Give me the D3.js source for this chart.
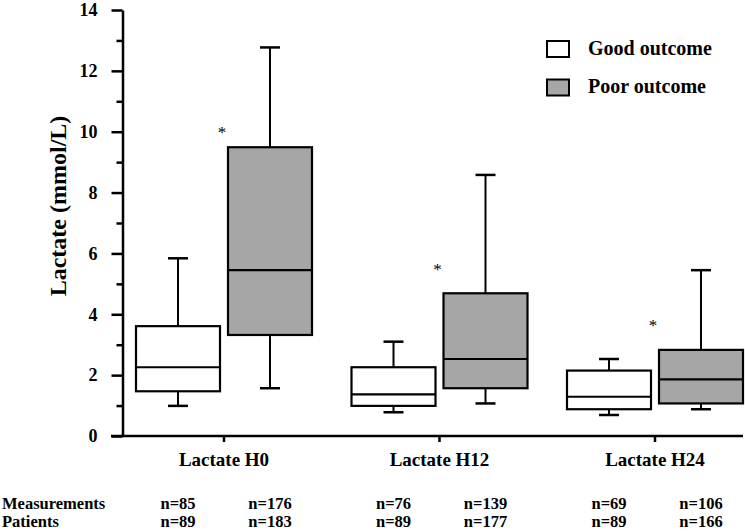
<!DOCTYPE html>
<html>
<head>
<meta charset="utf-8">
<script src="https://cdn.jsdelivr.net/npm/d3@7"></script>
<style>
  html, body { margin: 0; padding: 0; background: #fff; }
  svg { display: block; }
  svg text { font-family: "Liberation Serif", "Times New Roman", Times, "DejaVu Serif", serif !important; }
</style>
</head>
<body>
<svg id="chart" width="745" height="531"></svg>
<script>
// ---- data ----
const categories = ["Lactate H0", "Lactate H12", "Lactate H24"];
const groups = ["Good outcome", "Poor outcome"];
const goodMin = [0.99, 0.78, 0.69];
const goodQ1  = [1.47, 0.99, 0.88];
const goodMed = [2.26, 1.37, 1.29];
const goodQ3  = [3.61, 2.26, 2.15];
const goodMax = [5.84, 3.10, 2.53];
const poorMin = [1.57, 1.07, 0.88];
const poorQ1  = [3.32, 1.57, 1.07];
const poorMed = [5.45, 2.53, 1.86];
const poorQ3  = [9.49, 4.69, 2.83];
const poorMax = [12.77, 8.58, 5.45];
const measurementsGood = [85, 76, 69];
const measurementsPoor = [176, 139, 106];
const patientsGood = [89, 89, 89];
const patientsPoor = [183, 177, 166];
const asteriskValues = [10.09, 5.58, 3.75];
const yMajorTicks = [0, 2, 4, 6, 8, 10, 12, 14];
const yMinorTicks = [1, 3, 5, 7, 9, 11, 13];

const fills = {"Good outcome": "#ffffff", "Poor outcome": "#a6a6a6"};

const svg = d3.select("#chart");
const y = d3.scaleLinear().domain([0, 14]).range([436, 10]);
const x = d3.scaleBand().domain(categories).range([116.25, 762.75]).padding(0);
const sub = d3.scaleBand().domain(groups).range([-88, 88]).paddingInner(8 / 92);

const boxes = [];
categories.forEach((c, i) => {
  boxes.push({cat: c, group: groups[0], min: goodMin[i], q1: goodQ1[i], med: goodMed[i], q3: goodQ3[i], max: goodMax[i], m: measurementsGood[i], p: patientsGood[i]});
  boxes.push({cat: c, group: groups[1], min: poorMin[i], q1: poorQ1[i], med: poorMed[i], q3: poorQ3[i], max: poorMax[i], m: measurementsPoor[i], p: patientsPoor[i]});
});
const cx = c => x(c) + x.bandwidth() / 2;
const boxLeft = d => cx(d.cat) + sub(d.group);
const boxMid = d => boxLeft(d) + sub.bandwidth() / 2;

// ---- y axis ----
const yAxis = svg.append("g").attr("transform", "translate(122.5,0)")
  .call(d3.axisLeft(y).tickValues(yMajorTicks).tickSize(11).tickSizeOuter(0).tickPadding(14));
yAxis.attr("font-family", null);
yAxis.select(".domain").attr("stroke", "#000").attr("stroke-width", 2.5);
yAxis.selectAll(".tick line").attr("stroke", "#000").attr("stroke-width", 2.5);
yAxis.selectAll(".tick text").attr("font-weight", "bold")
  .attr("font-size", 18).attr("fill", "#000");
const yMinor = svg.append("g").attr("transform", "translate(122.5,0)")
  .call(d3.axisLeft(y).tickValues(yMinorTicks).tickSize(6).tickSizeOuter(0).tickFormat(""));
yMinor.select(".domain").remove();
yMinor.selectAll(".tick line").attr("stroke", "#000").attr("stroke-width", 2.5);

// ---- x axis ----
const xAxis = svg.append("g").attr("transform", "translate(0,436)")
  .call(d3.axisBottom(x).tickSize(6).tickSizeOuter(0));
xAxis.attr("font-family", null);
xAxis.select(".domain").remove();
xAxis.selectAll(".tick line").attr("stroke", "#000").attr("stroke-width", 2.5);
xAxis.selectAll(".tick text").attr("y", 30).attr("dy", 0)
  .attr("font-weight", "bold").attr("font-size", 19).attr("fill", "#000");
svg.append("line").attr("x1", 111).attr("x2", 743).attr("y1", y(0)).attr("y2", y(0))
  .attr("stroke", "#000").attr("stroke-width", 2.5);

// ---- y title ----
svg.append("text").attr("transform", `translate(66,${(y(0) + y(14)) / 2 - 17}) rotate(-90)`)
  .attr("text-anchor", "middle").attr("font-weight", "bold").attr("font-size", 24)
  .text("Lactate (mmol/L)");

// ---- boxes ----
const g = svg.append("g").attr("stroke", "#000").attr("stroke-width", 2);
const bg = g.selectAll("g.box").data(boxes).join("g").attr("class", "box");
bg.append("line").attr("x1", boxMid).attr("x2", boxMid).attr("y1", d => y(d.q3)).attr("y2", d => y(d.max));
bg.append("line").attr("x1", boxMid).attr("x2", boxMid).attr("y1", d => y(d.q1)).attr("y2", d => y(d.min));
bg.append("line").attr("x1", d => boxMid(d) - 10).attr("x2", d => boxMid(d) + 10)
  .attr("y1", d => y(d.max)).attr("y2", d => y(d.max)).attr("stroke-width", 2.5);
bg.append("line").attr("x1", d => boxMid(d) - 10).attr("x2", d => boxMid(d) + 10)
  .attr("y1", d => y(d.min)).attr("y2", d => y(d.min)).attr("stroke-width", 2.5);
bg.append("rect").attr("x", boxLeft).attr("width", sub.bandwidth())
  .attr("y", d => y(d.q3)).attr("height", d => y(d.q1) - y(d.q3))
  .attr("fill", d => fills[d.group]).attr("stroke-width", 2.2);
bg.append("line").attr("x1", boxLeft).attr("x2", d => boxLeft(d) + sub.bandwidth())
  .attr("y1", d => y(d.med)).attr("y2", d => y(d.med)).attr("stroke-width", 2.2);

// ---- asterisks ----
svg.selectAll("text.ast").data(categories).join("text").attr("class", "ast")
  .attr("x", c => cx(c) + sub(groups[1]) - 6)
  .attr("y", (c, i) => y(asteriskValues[i]) + 9)
  .attr("text-anchor", "middle").attr("font-size", 17).text("*");

// ---- legend ----
const leg = svg.append("g");
groups.forEach((gname, i) => {
  const yy = 41 + i * 38.5;
  leg.append("rect").attr("x", 547).attr("y", yy).attr("width", 22).attr("height", 16)
    .attr("fill", fills[gname]).attr("stroke", "#000").attr("stroke-width", 2);
  leg.append("text").attr("x", 588).attr("y", yy + 13.5).attr("font-weight", "bold")
    .attr("font-size", 20).text(gname);
});

// ---- n rows ----
svg.append("text").attr("x", 2).attr("y", 509).attr("font-weight", "bold").attr("font-size", 16.5).text("Measurements");
svg.append("text").attr("x", 2).attr("y", 527).attr("font-weight", "bold").attr("font-size", 16.5).text("Patients");
svg.selectAll("text.nm").data(boxes).join("text").attr("class", "nm")
  .attr("x", boxMid).attr("y", 509).attr("text-anchor", "middle")
  .attr("font-weight", "bold").attr("font-size", 16.5).text(d => "n=" + d.m);
svg.selectAll("text.np").data(boxes).join("text").attr("class", "np")
  .attr("x", boxMid).attr("y", 527).attr("text-anchor", "middle")
  .attr("font-weight", "bold").attr("font-size", 16.5).text(d => "n=" + d.p);
</script>
</body>
</html>
